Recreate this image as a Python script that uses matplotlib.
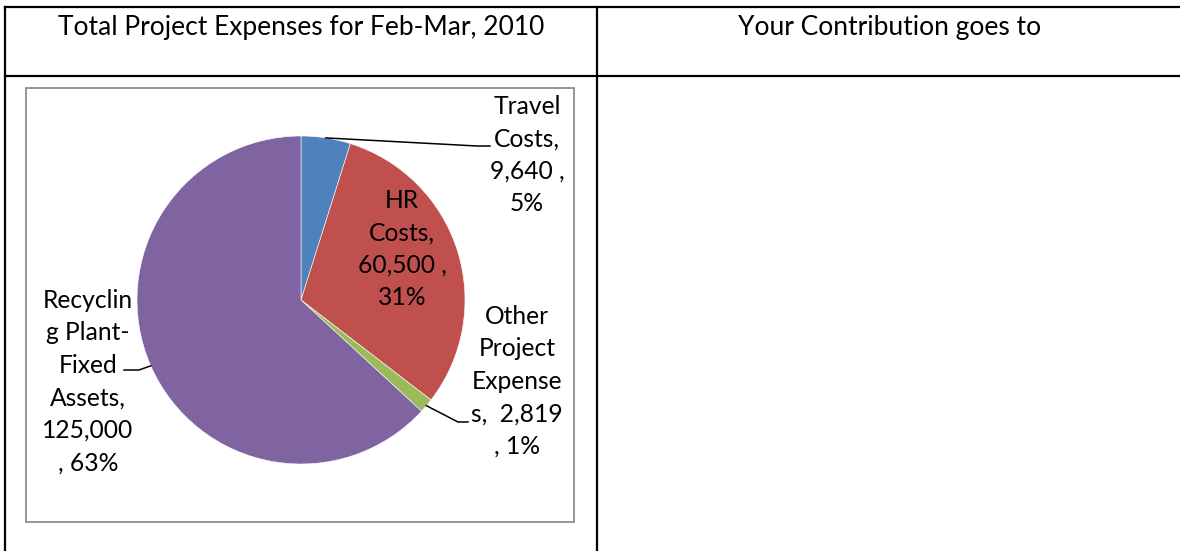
import matplotlib
matplotlib.use("Agg")
import matplotlib.pyplot as plt
import numpy as np

W, H = 1180, 551

# data
categories = ["Travel Costs", "HR Costs", "Other Project Expenses", "Recycling Plant-Fixed Assets"]
values = [9640, 60500, 2819, 125000]
colors = ["#4F81BD", "#C0504D", "#9BBB59", "#8064A2"]
# wrapped label lines as Excel shows them
label_lines = [
    ["Travel", "Costs,", "9,640 ,", "5%"],
    ["HR", "Costs,", "60,500 ,", "31%"],
    ["Other", "Project", "Expense", "s,  2,819", ", 1%"],
    ["Recyclin", "g Plant-", "Fixed", "Assets,", "125,000", ", 63%"],
]
headers = ["Total Project Expenses for Feb-Mar, 2010", "Your Contribution goes to"]

plt.rcParams['font.family'] = ['Lato', 'DejaVu Sans']

fig = plt.figure(figsize=(W / 100, H / 100), dpi=100)

# pie first, overlay axes on top for text and lines
cx, cy, r = 301, 300, 164
pax = fig.add_axes([(cx - r) / W, (H - cy - r) / H, 2 * r / W, 2 * r / H])
wedges, _ = pax.pie(values, colors=colors, startangle=90, counterclock=False,
                    radius=1, wedgeprops=dict(edgecolor="white", linewidth=0.4))
pax.set_xlim(-1, 1)
pax.set_ylim(-1, 1)
pax.axis("off")

bg = fig.add_axes([0, 0, 1, 1])
bg.set_xlim(0, W)
bg.set_ylim(H, 0)
bg.axis("off")

# table grid
lw = 1.6
bg.plot([5, W], [7, 7], color="black", lw=lw)
bg.plot([5, W], [76, 76], color="black", lw=lw)
bg.plot([5, 5], [7, H], color="black", lw=lw)
bg.plot([597, 597], [7, H], color="black", lw=lw)

bg.text(301, 27, headers[0], ha="center", va="center", fontsize=19)
bg.text(890, 27, headers[1], ha="center", va="center", fontsize=19)

# chart frame
frame = plt.Rectangle((26, 88), 548, 434, fill=False, edgecolor="#8c8c8c", lw=1.3)
bg.add_patch(frame)

# label positions (block centre x, first line y) in pixels
label_pos = [(527, 106), (402, 200), (517, 316), (88, 300)]
line_h = 32.6
for lines, (lx, ly) in zip(label_lines, label_pos):
    for i, s in enumerate(lines):
        bg.text(lx, ly + i * line_h, s, ha="center", va="center", fontsize=17.7)

# leader lines from wedge mid-angle on the rim
total = float(sum(values))
cum = np.cumsum([0] + values[:-1]) / total
mids = 90 - (cum + np.array(values) / total / 2) * 360
leaders = {0: [(477, 146), (490, 146)], 2: [(458, 422), (468, 422)], 3: [(139, 370), (124, 370)]}
for k, pts in leaders.items():
    a = np.radians(mids[k])
    sx, sy = cx + r * np.cos(a), cy - r * np.sin(a)
    xs = [sx] + [p[0] for p in pts]
    ys = [sy] + [p[1] for p in pts]
    bg.plot(xs, ys, color="black", lw=1.1)

fig.savefig("out.png", dpi=100)
